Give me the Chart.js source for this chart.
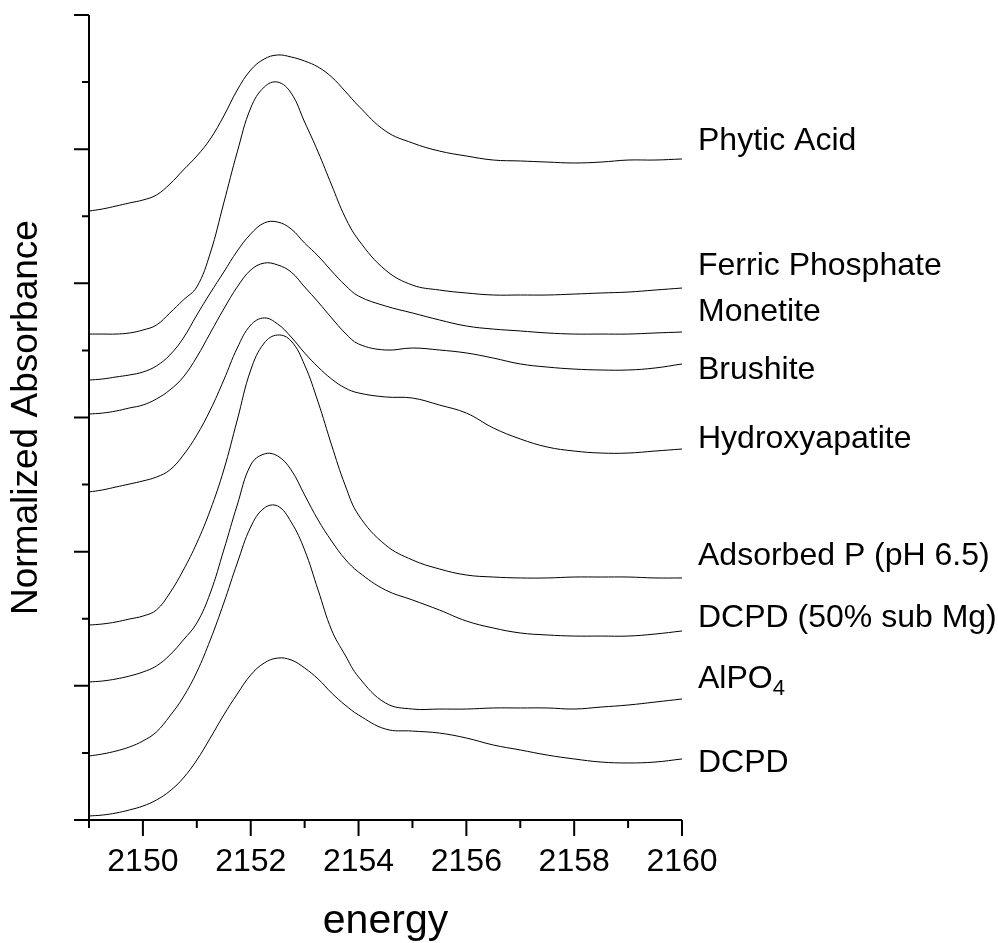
<!DOCTYPE html>
<html>
<head>
<meta charset="utf-8">
<title>Normalized Absorbance vs energy</title>
<script src="https://cdn.jsdelivr.net/npm/chart.js@4.4.1/dist/chart.umd.min.js"></script>
<style>
	html, body { margin: 0; padding: 0; background: #fff; }
	canvas { display: block; }
</style>
</head>
<body>
<canvas id="chart" width="998" height="943"></canvas>
<script>
// energy grid shared by all spectra
const energy = [2149, 2149.25, 2149.5, 2149.75, 2150, 2150.25, 2150.5, 2150.75, 2151, 2151.25, 2151.5,
	2151.75, 2152, 2152.25, 2152.5, 2152.75, 2153, 2153.25, 2153.5, 2153.75, 2154, 2154.5, 2155,
	2155.5, 2156, 2156.5, 2157, 2157.5, 2158, 2158.5, 2159, 2159.5, 2160];

// stacked spectra (offset, arbitrary units), top of the plot first
const phyticAcid = [4.539, 4.554, 4.576, 4.599, 4.621, 4.658, 4.740, 4.845, 4.949, 5.076, 5.247,
	5.441, 5.590, 5.672, 5.702, 5.687, 5.657, 5.612, 5.538, 5.433, 5.322, 5.135, 5.046,
	4.986, 4.949, 4.919, 4.912, 4.904, 4.897, 4.904, 4.919, 4.919, 4.927];
const ferricPhosphate = [3.622, 3.622, 3.622, 3.630, 3.652, 3.689, 3.779, 3.876, 3.973, 4.226, 4.599,
	4.979, 5.307, 5.463, 5.500, 5.418, 5.202, 4.979, 4.733, 4.494, 4.323, 4.099, 3.987,
	3.950, 3.928, 3.913, 3.913, 3.913, 3.920, 3.928, 3.935, 3.950, 3.965];
const monetite = [3.279, 3.287, 3.302, 3.317, 3.339, 3.384, 3.466, 3.592, 3.764, 3.928, 4.084,
	4.241, 4.368, 4.450, 4.457, 4.405, 4.300, 4.204, 4.092, 3.987, 3.905, 3.831, 3.779,
	3.727, 3.682, 3.659, 3.645, 3.630, 3.622, 3.622, 3.622, 3.630, 3.637];
const brushite = [3.026, 3.033, 3.048, 3.071, 3.093, 3.138, 3.205, 3.302, 3.451, 3.630, 3.809,
	3.973, 4.099, 4.151, 4.137, 4.084, 3.973, 3.861, 3.742, 3.630, 3.548, 3.503, 3.518,
	3.503, 3.481, 3.443, 3.399, 3.376, 3.361, 3.354, 3.354, 3.369, 3.399];
const hydroxyapatite = [2.445, 2.460, 2.482, 2.504, 2.527, 2.556, 2.609, 2.720, 2.869, 3.056, 3.279,
	3.518, 3.689, 3.742, 3.697, 3.600, 3.481, 3.376, 3.287, 3.220, 3.183, 3.153, 3.145,
	3.093, 3.033, 2.922, 2.840, 2.780, 2.750, 2.735, 2.735, 2.750, 2.765];
const adsorbedP = [1.453, 1.461, 1.476, 1.498, 1.520, 1.565, 1.692, 1.863, 2.065, 2.310, 2.609,
	2.981, 3.354, 3.555, 3.615, 3.570, 3.391, 3.115, 2.795, 2.497, 2.273, 2.050, 1.938,
	1.871, 1.826, 1.811, 1.804, 1.804, 1.811, 1.811, 1.811, 1.804, 1.804];
const dcpdMg = [1.029, 1.036, 1.051, 1.073, 1.103, 1.148, 1.230, 1.342, 1.468, 1.692, 2.012,
	2.348, 2.646, 2.728, 2.713, 2.609, 2.422, 2.236, 2.079, 1.945, 1.848, 1.714, 1.640,
	1.565, 1.483, 1.431, 1.394, 1.379, 1.371, 1.371, 1.371, 1.386, 1.409];
const alpo4 = [0.477, 0.492, 0.514, 0.544, 0.589, 0.656, 0.775, 0.917, 1.103, 1.342, 1.617,
	1.915, 2.184, 2.325, 2.340, 2.221, 2.012, 1.714, 1.416, 1.230, 1.066, 0.872, 0.827,
	0.827, 0.827, 0.835, 0.835, 0.835, 0.827, 0.842, 0.857, 0.879, 0.902];
const dcpd = [0.030, 0.037, 0.052, 0.075, 0.104, 0.149, 0.216, 0.313, 0.447, 0.611, 0.783,
	0.939, 1.081, 1.170, 1.207, 1.193, 1.133, 1.051, 0.947, 0.857, 0.783, 0.678, 0.663,
	0.648, 0.611, 0.559, 0.522, 0.484, 0.455, 0.432, 0.425, 0.432, 0.455];

const seriesNames = ['Phytic Acid', 'Ferric Phosphate', 'Monetite', 'Brushite', 'Hydroxyapatite',
	'Adsorbed P (pH 6.5)', 'DCPD (50% sub Mg)', 'AlPO_4', 'DCPD'];
// baseline of each name, in y units
const nameLevels = [4.994, 4.062, 3.719, 3.287, 2.773, 1.901, 1.438, 0.984, 0.358];

const xTicks = [2150, 2152, 2154, 2156, 2158, 2160];
const xMin = 2149, xMax = 2160;
const yMin = 0, yMax = 6;

const spectra = [phyticAcid, ferricPhosphate, monetite, brushite, hydroxyapatite, adsorbedP, dcpdMg, alpo4, dcpd];

const FONT = '"Liberation Sans", Arial, sans-serif';

// Origin style axes: long major ticks, short minor ticks, pointing out
const originAxes = {
	id: 'originAxes',
	afterDraw(chart) {
		const {ctx, chartArea, scales} = chart;
		const {left, right, top, bottom} = chartArea;
		ctx.save();
		ctx.strokeStyle = '#000';
		ctx.lineWidth = 2;
		ctx.beginPath();
		ctx.moveTo(left, top);
		ctx.lineTo(left, bottom);
		ctx.lineTo(right, bottom);
		for (let v = yMin; v <= yMax; v += 0.5) {
			let py = scales.y.getPixelForValue(v);
			let len = (v % 1 === 0) ? 15 : 7;
			ctx.moveTo(left - len, py);
			ctx.lineTo(left, py);
		}
		for (let e = xMin; e <= xMax; e++) {
			let px = scales.x.getPixelForValue(e);
			let len = (e % 2 === 0) ? 16 : 8;
			ctx.moveTo(px, bottom);
			ctx.lineTo(px, bottom + len);
		}
		ctx.stroke();

		// series names on the right, "_" marks a subscript
		ctx.fillStyle = '#000';
		ctx.textBaseline = 'alphabetic';
		ctx.textAlign = 'left';
		seriesNames.forEach(function(name, i) {
			let px = right + 16;
			let py = scales.y.getPixelForValue(nameLevels[i]);
			let parts = name.split('_');
			ctx.font = '32px ' + FONT;
			ctx.fillText(parts[0], px, py);
			if (parts.length > 1) {
				let w = ctx.measureText(parts[0]).width;
				ctx.font = '22px ' + FONT;
				ctx.fillText(parts[1], px + w, py + 7);
			}
		});
		ctx.restore();
	}
};

new Chart(document.getElementById('chart'), {
	type: 'line',
	data: {
		datasets: spectra.map(function(vals, i) {
			return {
				label: seriesNames[i],
				data: energy.map(function(e, j) { return {x: e, y: vals[j]}; }),
				borderColor: '#000',
				borderWidth: 1,
				pointRadius: 0,
				fill: false,
				tension: 0.4
			};
		})
	},
	options: {
		responsive: false,
		animation: false,
		devicePixelRatio: 1,
		layout: {padding: {left: 0, top: 15, right: 316, bottom: 0}},
		plugins: {
			legend: {display: false},
			tooltip: {enabled: false}
		},
		scales: {
			x: {
				type: 'linear',
				min: xMin,
				max: xMax,
				grid: {display: false, drawTicks: false},
				border: {display: false},
				afterBuildTicks: function(scale) {
					scale.ticks = xTicks.map(function(v) { return {value: v}; });
				},
				afterFit: function(scale) { scale.height = 123; },
				ticks: {
					color: '#000',
					padding: 23,
					maxRotation: 0,
					font: {family: FONT, size: 32},
					callback: function(v) { return String(v); }
				},
				title: {
					display: true,
					text: 'energy',
					color: '#000',
					padding: {top: 0, bottom: 1},
					font: {family: FONT, size: 41, lineHeight: 1}
				}
			},
			y: {
				type: 'linear',
				min: yMin,
				max: yMax,
				grid: {display: false, drawTicks: false},
				border: {display: false},
				ticks: {display: false},
				afterFit: function(scale) { scale.width = 89; },
				title: {
					display: true,
					text: 'Normalized Absorbance',
					color: '#000',
					padding: {top: 8.5, bottom: 0},
					font: {family: FONT, size: 37, lineHeight: 1}
				}
			}
		}
	},
	plugins: [originAxes]
});
</script>
</body>
</html>
